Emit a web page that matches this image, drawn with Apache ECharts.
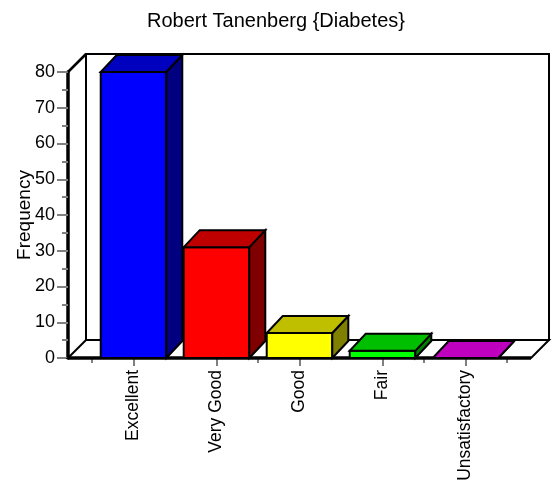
<!DOCTYPE html>
<html>
<head>
<meta charset="utf-8">
<title>Robert Tanenberg {Diabetes}</title>
<script src="https://cdn.jsdelivr.net/npm/echarts@6/dist/echarts.min.js"></script>
<style>
  html, body { margin: 0; padding: 0; background: #fff; }
  #chart { width: 552px; height: 482px; }
</style>
</head>
<body>
<div id="chart"></div>
<script>
// data
var categories = ['Excellent', 'Very Good', 'Good', 'Fair', 'Unsatisfactory'];
var frequency = [80, 31, 7, 2, 0];
var yMin = 0;
var yMax = 80;
var yStep = 10;

// bar face colours (front / top / side)
var frontColors = ['#0000ff', '#ff0000', '#ffff00', '#00ff00', '#ff00ff'];
var topColors = ['#0000bf', '#bf0000', '#bfbf00', '#00bf00', '#bf00bf'];
var sideColors = ['#000080', '#800000', '#808000', '#008000', '#800080'];

var axisOffset = 24;      // y axis sits left of the first band, floor runs past the last
var wallDepth = [18, -18];
var barDepth = [16, -17];
var font = 'Liberation Sans, Arial, sans-serif';

var myChart = echarts.init(document.getElementById('chart'));

// back wall + floor of the 3d box
function renderFrame(params, api) {
  var band = api.size([1, 0])[0];
  var p0 = api.coord([0, yMin]);
  var p1 = api.coord([categories.length - 1, yMax]);
  var L = p0[0] - band / 2 - axisOffset;
  var R = p1[0] + band / 2 + axisOffset;
  var B = p0[1], T = p1[1];
  var dx = wallDepth[0], dy = wallDepth[1];
  var line = { stroke: '#000', lineWidth: 2, fill: '#fff' };
  return {
    type: 'group',
    children: [
      { type: 'polygon', shape: { points: [[L + dx, B + dy], [L + dx, T + dy], [R + dx, T + dy], [R + dx, B + dy]] }, style: line },
      { type: 'polygon', shape: { points: [[L, B], [L + dx, B + dy], [R + dx, B + dy], [R, B]] }, style: line },
      { type: 'line', shape: { x1: L, y1: T, x2: L + dx, y2: T + dy }, style: { stroke: '#000', lineWidth: 2.5 } }
    ]
  };
}

function renderFrontLine(params, api) {
  var band = api.size([1, 0])[0];
  var p0 = api.coord([0, yMin]);
  var p1 = api.coord([categories.length - 1, yMin]);
  return {
    type: 'line',
    shape: { x1: p0[0] - band / 2 - axisOffset, y1: p0[1], x2: p1[0] + band / 2 + axisOffset, y2: p1[1] },
    style: { stroke: '#000', lineWidth: 3.5 }
  };
}

function renderBar(params, api) {
  var i = api.value(0);
  var base = api.coord([i, 0]);
  var top = api.coord([i, api.value(1)]);
  var band = api.size([1, 0])[0];
  var w = band * 0.79;
  var x0 = base[0] - w / 2, x1 = x0 + w;
  var y0 = base[1], y1 = top[1];
  var dx = barDepth[0], dy = barDepth[1];
  return {
    type: 'group',
    children: [
      { type: 'polygon', shape: { points: [[x0, y0], [x1, y0], [x1, y1], [x0, y1]] },
        style: { fill: frontColors[i], stroke: '#000', lineWidth: 2 } },
      { type: 'polygon', shape: { points: [[x1, y0], [x1 + dx, y0 + dy], [x1 + dx, y1 + dy], [x1, y1]] },
        style: { fill: sideColors[i], stroke: '#000', lineWidth: 2 } },
      { type: 'polygon', shape: { points: [[x0, y1], [x1, y1], [x1 + dx, y1 + dy], [x0 + dx, y1 + dy]] },
        style: { fill: topColors[i], stroke: '#000', lineWidth: 2 } }
    ]
  };
}

var tickStyle = { color: '#808080', width: 2 };

var option = {
  animation: false,
  textStyle: { fontFamily: font },
  title: {
    text: 'Robert Tanenberg {Diabetes}',
    left: 'center',
    top: 6,
    textStyle: { fontSize: 20, fontWeight: 'normal', color: '#000', fontFamily: font }
  },
  grid: { left: 92, right: 45, top: 72, bottom: 124, outerBoundsMode: 'none' },
  xAxis: [{
    type: 'category',
    data: categories,
    position: 'bottom',
    axisLine: { show: false },
    axisTick: { show: true, length: 5, lineStyle: tickStyle },
    axisLabel: { show: false },
    splitLine: { show: false }
  }, {
    type: 'category',
    data: categories,
    position: 'bottom',
    axisLine: { show: false },
    axisTick: { show: true, alignWithLabel: true, length: 8, lineStyle: tickStyle },
    axisLabel: { rotate: 90, interval: 0, margin: 12, fontSize: 17.5, color: '#000', fontFamily: font },
    splitLine: { show: false }
  }],
  yAxis: {
    type: 'value',
    min: yMin,
    max: yMax,
    interval: yStep,
    offset: axisOffset,
    name: 'Frequency',
    nameLocation: 'middle',
    nameGap: 34,
    nameMoveOverlap: false,
    nameTextStyle: { fontSize: 19, color: '#000', fontFamily: font },
    axisLine: { show: true, lineStyle: { color: '#000', width: 3.5 } },
    axisTick: { show: true, length: 11, lineStyle: tickStyle },
    minorTick: { show: true, splitNumber: 2, length: 6, lineStyle: tickStyle },
    axisLabel: { margin: 13, fontSize: 18, color: '#000', fontFamily: font },
    splitLine: { show: false }
  },
  series: [{
    type: 'custom',
    clip: false,
    silent: true,
    renderItem: renderFrame,
    data: [[0, 0]]
  }, {
    type: 'custom',
    clip: false,
    silent: true,
    renderItem: renderFrontLine,
    data: [[0, 0]]
  }, {
    type: 'custom',
    clip: false,
    renderItem: renderBar,
    data: categories.map(function(c, i) { return [i, frequency[i]]; })
  }]
};

myChart.setOption(option);
</script>
</body>
</html>
